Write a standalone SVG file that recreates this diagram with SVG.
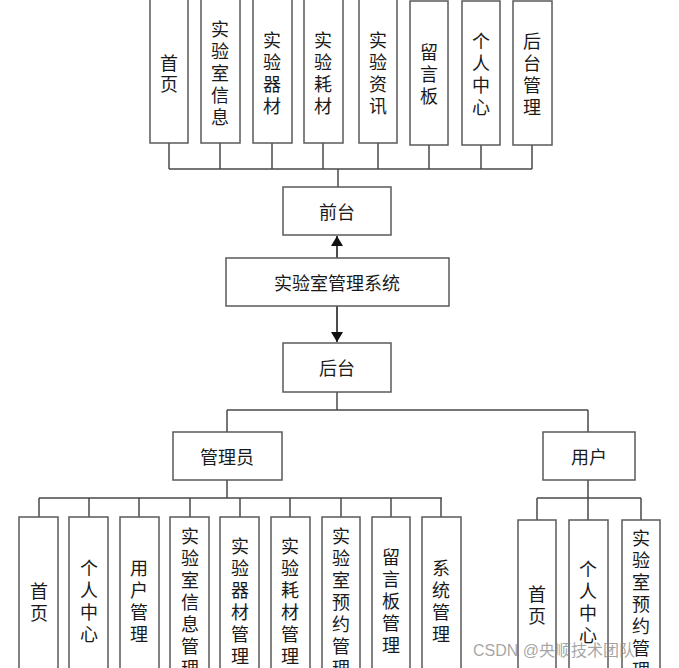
<svg xmlns="http://www.w3.org/2000/svg" width="679" height="668" viewBox="0 0 679 668">
<defs>
<style>
.box{fill:#fff;stroke:#5a5a5a;stroke-width:1.5}
.ln{fill:none;stroke:#4a4a4a;stroke-width:1.5}
.ar{fill:none;stroke:#111;stroke-width:1.5}
text{font-family:"Noto Sans CJK SC","Microsoft YaHei",sans-serif;font-size:18px;fill:#1a1a1a;text-anchor:middle;dominant-baseline:central}
.wm{font-family:"Liberation Sans","Noto Sans CJK SC",sans-serif;font-size:16px;fill:#888;fill-opacity:0.75;text-anchor:start;dominant-baseline:alphabetic}
</style>
<marker id="ah" viewBox="0 0 10 12" refX="10" refY="6" markerWidth="10" markerHeight="12" markerUnits="userSpaceOnUse" orient="auto">
<path d="M0,0 L10,6 L0,12 Z" fill="#111"/>
</marker>
</defs>
<rect width="679" height="668" fill="#fff"/>

<g id="connectors">
<path class="ln" d="M169,143 V169 M220,143 V169 M272,143 V169 M323,143 V169 M378,143 V169 M429,145 V169 M481,145 V169 M532,145 V169 M169,169 H532 M338,169 V187"/>
<path class="ar" d="M337,258 V236" marker-end="url(#ah)"/>
<path class="ar" d="M337,306 V342" marker-end="url(#ah)"/>
<path class="ln" d="M337,392 V410 M227,410 H588 M227,410 V432 M588,410 V432"/>
<path class="ln" d="M227,480 V498 M39,498 H442 M39,498 V517 M89,498 V517 M139,498 V517 M190,498 V517 M240,498 V517 M290,498 V517 M341,498 V517 M391,498 V517 M441,498 V517"/>
<path class="ln" d="M588,480 V498 M537,498 H641 M537,498 V520 M588,498 V520 M641,498 V520"/>
</g>

<g id="top-1"><rect class="box" x="150" y="-1" width="38" height="144"/><text x="169"><tspan x="169" y="62">首</tspan><tspan x="169" y="83">页</tspan></text></g>
<g id="top-2"><rect class="box" x="201" y="-1" width="39" height="144"/><text><tspan x="220" y="28">实</tspan><tspan x="220" y="50">验</tspan><tspan x="220" y="72">室</tspan><tspan x="220" y="94">信</tspan><tspan x="220" y="116">息</tspan></text></g>
<g id="top-3"><rect class="box" x="253" y="-1" width="39" height="144"/><text><tspan x="272" y="39">实</tspan><tspan x="272" y="61">验</tspan><tspan x="272" y="83">器</tspan><tspan x="272" y="105">材</tspan></text></g>
<g id="top-4"><rect class="box" x="304" y="-1" width="39" height="144"/><text><tspan x="323" y="39">实</tspan><tspan x="323" y="61">验</tspan><tspan x="323" y="83">耗</tspan><tspan x="323" y="105">材</tspan></text></g>
<g id="top-5"><rect class="box" x="359" y="-1" width="38" height="144"/><text><tspan x="378" y="39">实</tspan><tspan x="378" y="61">验</tspan><tspan x="378" y="83">资</tspan><tspan x="378" y="105">讯</tspan></text></g>
<g id="top-6"><rect class="box" x="410" y="1" width="38" height="144"/><text><tspan x="429" y="51">留</tspan><tspan x="429" y="73">言</tspan><tspan x="429" y="95">板</tspan></text></g>
<g id="top-7"><rect class="box" x="462" y="1" width="38" height="144"/><text><tspan x="481" y="40">个</tspan><tspan x="481" y="62">人</tspan><tspan x="481" y="84">中</tspan><tspan x="481" y="106">心</tspan></text></g>
<g id="top-8"><rect class="box" x="513" y="1" width="39" height="144"/><text><tspan x="532" y="40">后</tspan><tspan x="532" y="62">台</tspan><tspan x="532" y="84">管</tspan><tspan x="532" y="106">理</tspan></text></g>

<g id="qiantai"><rect class="box" x="283" y="187" width="108" height="48"/><text x="337" y="211">前台</text></g>
<g id="system"><rect class="box" x="226" y="258" width="223" height="48"/><text x="337" y="282">实验室管理系统</text></g>
<g id="houtai"><rect class="box" x="283" y="343" width="108" height="49"/><text x="337" y="367">后台</text></g>
<g id="admin"><rect class="box" x="173" y="432" width="109" height="48"/><text x="227" y="456">管理员</text></g>
<g id="user"><rect class="box" x="543" y="432" width="92" height="48"/><text x="589" y="456">用户</text></g>

<g id="a-1"><rect class="box" x="19" y="517" width="39" height="175"/><text><tspan x="39" y="590">首</tspan><tspan x="39" y="612">页</tspan></text></g>
<g id="a-2"><rect class="box" x="69" y="517" width="39" height="175"/><text><tspan x="89" y="567">个</tspan><tspan x="89" y="589">人</tspan><tspan x="89" y="611">中</tspan><tspan x="89" y="633">心</tspan></text></g>
<g id="a-3"><rect class="box" x="120" y="517" width="39" height="175"/><text><tspan x="139" y="567">用</tspan><tspan x="139" y="589">户</tspan><tspan x="139" y="611">管</tspan><tspan x="139" y="633">理</tspan></text></g>
<g id="a-4"><rect class="box" x="170" y="517" width="39" height="175"/><text><tspan x="190" y="535">实</tspan><tspan x="190" y="557">验</tspan><tspan x="190" y="579">室</tspan><tspan x="190" y="601">信</tspan><tspan x="190" y="623">息</tspan><tspan x="190" y="645">管</tspan><tspan x="190" y="667">理</tspan></text></g>
<g id="a-5"><rect class="box" x="220" y="517" width="39" height="175"/><text><tspan x="240" y="545">实</tspan><tspan x="240" y="567">验</tspan><tspan x="240" y="589">器</tspan><tspan x="240" y="611">材</tspan><tspan x="240" y="633">管</tspan><tspan x="240" y="655">理</tspan></text></g>
<g id="a-6"><rect class="box" x="271" y="517" width="39" height="175"/><text><tspan x="290" y="545">实</tspan><tspan x="290" y="567">验</tspan><tspan x="290" y="589">耗</tspan><tspan x="290" y="611">材</tspan><tspan x="290" y="633">管</tspan><tspan x="290" y="655">理</tspan></text></g>
<g id="a-7"><rect class="box" x="322" y="517" width="38" height="175"/><text><tspan x="341" y="535">实</tspan><tspan x="341" y="557">验</tspan><tspan x="341" y="579">室</tspan><tspan x="341" y="601">预</tspan><tspan x="341" y="623">约</tspan><tspan x="341" y="645">管</tspan><tspan x="341" y="667">理</tspan></text></g>
<g id="a-8"><rect class="box" x="372" y="517" width="38" height="175"/><text><tspan x="391" y="556">留</tspan><tspan x="391" y="578">言</tspan><tspan x="391" y="600">板</tspan><tspan x="391" y="622">管</tspan><tspan x="391" y="644">理</tspan></text></g>
<g id="a-9"><rect class="box" x="422" y="517" width="39" height="175"/><text><tspan x="441" y="567">系</tspan><tspan x="441" y="589">统</tspan><tspan x="441" y="611">管</tspan><tspan x="441" y="633">理</tspan></text></g>

<g id="u-1"><rect class="box" x="518" y="520" width="38" height="175"/><text><tspan x="537" y="593">首</tspan><tspan x="537" y="615">页</tspan></text></g>
<g id="u-2"><rect class="box" x="569" y="520" width="39" height="175"/><text><tspan x="588" y="568">个</tspan><tspan x="588" y="590">人</tspan><tspan x="588" y="612">中</tspan><tspan x="588" y="634">心</tspan></text></g>
<g id="u-3"><rect class="box" x="622" y="520" width="38" height="175"/><text><tspan x="641" y="537">实</tspan><tspan x="641" y="559">验</tspan><tspan x="641" y="581">室</tspan><tspan x="641" y="603">预</tspan><tspan x="641" y="625">约</tspan><tspan x="641" y="647">管</tspan><tspan x="641" y="669">理</tspan></text></g>

<text class="wm" x="473" y="656">CSDN @央顺技术团队</text>
</svg>
